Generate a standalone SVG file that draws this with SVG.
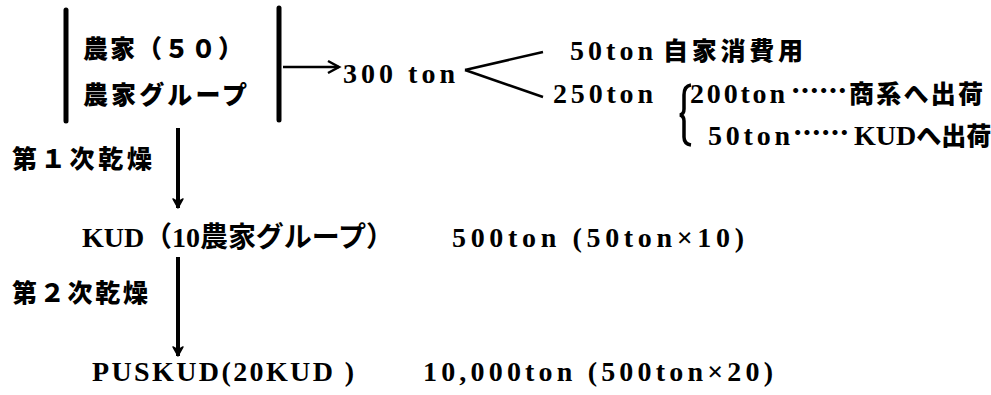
<svg xmlns="http://www.w3.org/2000/svg" width="991" height="395" viewBox="0 0 991 395">
<style>
  text { font-family: "Liberation Serif", "Noto Sans CJK JP", serif; font-weight: bold; font-size: 28px; fill: #000; }
  .j { font-family: "Noto Sans CJK JP", sans-serif; font-size: 25px; font-weight: 900; }
  .dots { font-family: "Noto Sans CJK JP", sans-serif; font-size: 28px; font-weight: 900; }
  .bar { stroke: #000; stroke-width: 5; stroke-linecap: round; }
  .ln { stroke: #000; stroke-width: 2.5; fill: none; }
  .dn { stroke: #000; stroke-width: 4; fill: none; }
</style>
<defs>
  <marker id="ah" markerUnits="userSpaceOnUse" markerWidth="16" markerHeight="16" refX="13" refY="8" orient="auto">
    <path d="M2,2 L13,8 L2,14" fill="none" stroke="#000" stroke-width="2.5"/>
  </marker>
  <marker id="dh" markerUnits="userSpaceOnUse" markerWidth="14" markerHeight="14" refX="11" refY="7" orient="auto">
    <path d="M2,2 L11,7 L2,12 L5,7 Z" fill="#000" stroke="#000" stroke-width="1.5" stroke-linejoin="round"/>
  </marker>
</defs>
<rect width="991" height="395" fill="#fff"/>

<g id="connectors">
  <line class="ln" x1="283" y1="67" x2="339" y2="67" marker-end="url(#ah)"/>
  <line class="ln" x1="465" y1="70" x2="543" y2="52"/>
  <line class="ln" x1="465" y1="70" x2="543" y2="97"/>
  <line class="dn" x1="178" y1="128" x2="178" y2="208" marker-end="url(#dh)"/>
  <line class="dn" x1="178" y1="257" x2="178" y2="356" marker-end="url(#dh)"/>
</g>

<g id="farmers">
  <line class="bar" x1="66" y1="10" x2="66" y2="121"/>
  <line class="bar" x1="279" y1="8" x2="279" y2="120"/>
  <text class="j" x="83" y="58" textLength="160" lengthAdjust="spacing">農家（５０）</text>
  <text class="j" x="83" y="104" textLength="164" lengthAdjust="spacing">農家グループ</text>
</g>

<g id="total">
  <text x="343" y="83" textLength="112" lengthAdjust="spacing">300 ton</text>
</g>

<g id="self-use">
  <text x="570" y="60" textLength="83" lengthAdjust="spacing">50ton</text>
  <text class="j" x="663" y="60" textLength="140" lengthAdjust="spacing">自家消費用</text>
</g>

<g id="sale">
  <text x="553" y="103" textLength="100" lengthAdjust="spacing">250ton</text>
</g>

<g id="merchant">
  <path d="M691,85 Q684,86 684,95 L684,109 Q684,114 680,115 Q684,116 684,121 L684,137 Q684,144 691,145" fill="none" stroke="#000" stroke-width="3.5"/>
  <text x="690" y="103" textLength="95" lengthAdjust="spacing">200ton</text>
  <text class="dots" x="791" y="102">……</text>
  <text class="j" x="849" y="103" textLength="134" lengthAdjust="spacing">商系へ出荷</text>
</g>

<g id="kud-ship">
  <text x="708" y="145" textLength="82" lengthAdjust="spacing">50ton</text>
  <text class="dots" x="793" y="144">……</text>
  <text x="854" y="145" font-size="26">KUD<tspan class="j" font-size="22">へ出荷</tspan></text>
</g>

<g id="label1">
  <text class="j" x="12" y="168" textLength="140" lengthAdjust="spacing">第１次乾燥</text>
</g>

<g id="kud">
  <text x="82" y="247" textLength="312" lengthAdjust="spacing">KUD（10農家グループ）</text>
</g>

<g id="kud-amount">
  <text x="452" y="247" textLength="292" lengthAdjust="spacing">500ton (50ton×10)</text>
</g>

<g id="label2">
  <text class="j" x="12" y="302" textLength="136" lengthAdjust="spacing">第２次乾燥</text>
</g>

<g id="puskud">
  <text x="92" y="381" textLength="262" lengthAdjust="spacing">PUSKUD(20KUD )</text>
</g>

<g id="puskud-amount">
  <text x="423" y="381" textLength="350" lengthAdjust="spacing">10,000ton (500ton×20)</text>
</g>
</svg>
